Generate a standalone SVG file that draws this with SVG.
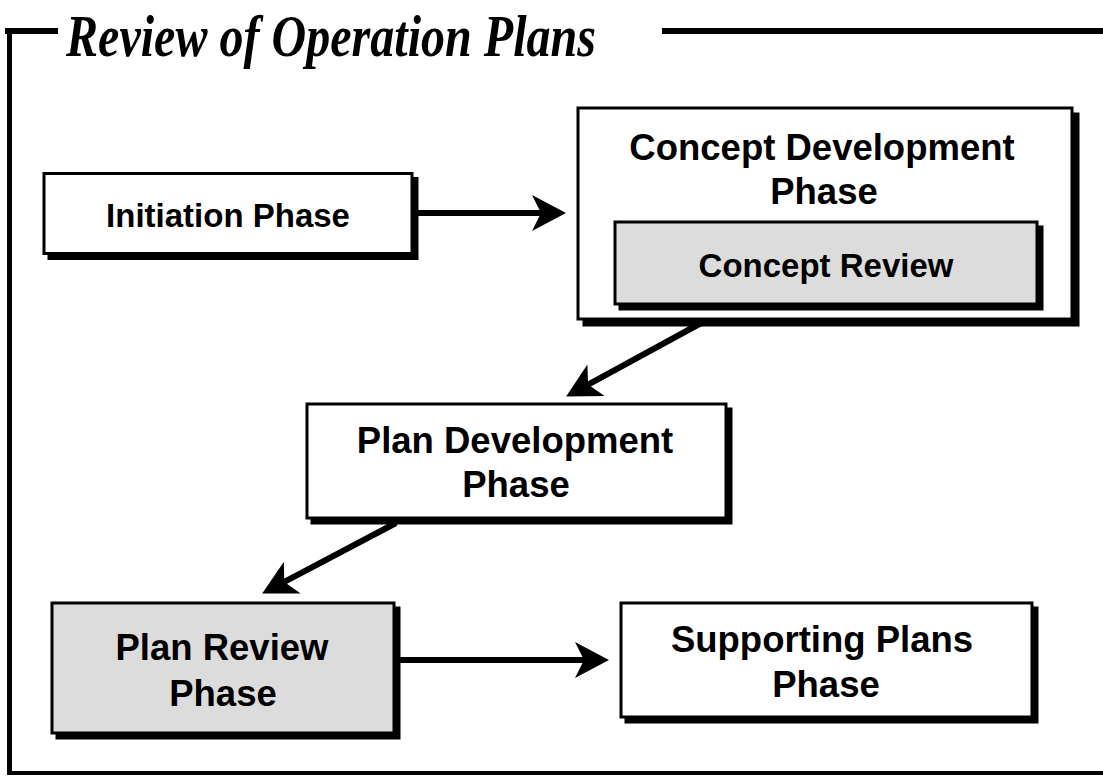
<svg xmlns="http://www.w3.org/2000/svg" width="1103" height="776" viewBox="0 0 1103 776">
<style>
.box{stroke:#000;stroke-width:3;}
.w{fill:#fff;}
.g{fill:#dcdcdc;}
.sh{fill:#000;stroke:#000;stroke-width:3;}
.t{font-family:"Liberation Sans",Arial,sans-serif;font-weight:bold;fill:#000;text-anchor:middle;}
.conn{stroke:#000;stroke-width:6;fill:none;}
.frame{stroke:#000;fill:none;}
</style>
<defs>
<marker id="ah" markerUnits="userSpaceOnUse" orient="auto" refX="0" refY="0" markerWidth="60" markerHeight="60" overflow="visible">
<path d="M25,0 L-9,-18 L0,0 L-9,18 Z" fill="#000"/>
</marker>
</defs>
<g id="frame">
<line class="frame" x1="5" y1="31" x2="58" y2="31" stroke-width="6"/>
<line class="frame" x1="662" y1="31" x2="1103" y2="31" stroke-width="6"/>
<line class="frame" x1="9.5" y1="28" x2="9.5" y2="775" stroke-width="5"/>
<line class="frame" x1="7" y1="773" x2="1103" y2="773" stroke-width="4"/>
<text x="66" y="56" font-family="'Liberation Serif','Times New Roman',serif" font-weight="bold" font-style="italic" font-size="60" textLength="530" lengthAdjust="spacingAndGlyphs">Review of Operation Plans</text>
</g>
<g id="initiation">
<rect class="sh" x="49" y="178.5" width="368" height="80"/>
<rect class="box w" x="44" y="173.5" width="368" height="80"/>
<text class="t" x="228" y="227" font-size="33">Initiation Phase</text>
</g>
<g id="concept-development">
<rect class="sh" x="584" y="114" width="494" height="211"/>
<rect class="box w" x="578" y="108" width="494" height="211" stroke-width="2.5"/>
<text class="t" x="822" y="160" font-size="36.5">Concept Development</text>
<text class="t" x="824" y="204" font-size="36.5">Phase</text>
</g>
<g id="concept-review">
<rect class="sh" x="620" y="227" width="422" height="82"/>
<rect class="box g" x="615" y="222" width="422" height="82" stroke-width="2.5"/>
<text class="t" x="826" y="277" font-size="33">Concept Review</text>
</g>
<g id="plan-development">
<rect class="sh" x="312" y="409" width="419" height="114"/>
<rect class="box w" x="307" y="404" width="419" height="114"/>
<text class="t" x="515" y="453" font-size="36.5">Plan Development</text>
<text class="t" x="516" y="497" font-size="36.5">Phase</text>
</g>
<g id="plan-review">
<rect class="sh" x="57" y="608" width="342" height="130"/>
<rect class="box g" x="52" y="603" width="342" height="130"/>
<text class="t" x="222" y="660" font-size="36.5">Plan Review</text>
<text class="t" x="223" y="706" font-size="36.5">Phase</text>
</g>
<g id="supporting-plans">
<rect class="sh" x="626" y="608" width="411" height="114"/>
<rect class="box w" x="621" y="603" width="411" height="114"/>
<text class="t" x="822" y="652" font-size="36.5">Supporting Plans</text>
<text class="t" x="826" y="697" font-size="36.5">Phase</text>
</g>
<g id="connectors">
<line class="conn" x1="418" y1="213" x2="541" y2="213" marker-end="url(#ah)"/>
<line class="conn" x1="400" y1="660" x2="584" y2="660" marker-end="url(#ah)"/>
<line class="conn" x1="703" y1="322" x2="588.1" y2="384.6" marker-end="url(#ah)"/>
<line class="conn" x1="396" y1="523" x2="284.3" y2="581.9" marker-end="url(#ah)"/>
</g>
</svg>
